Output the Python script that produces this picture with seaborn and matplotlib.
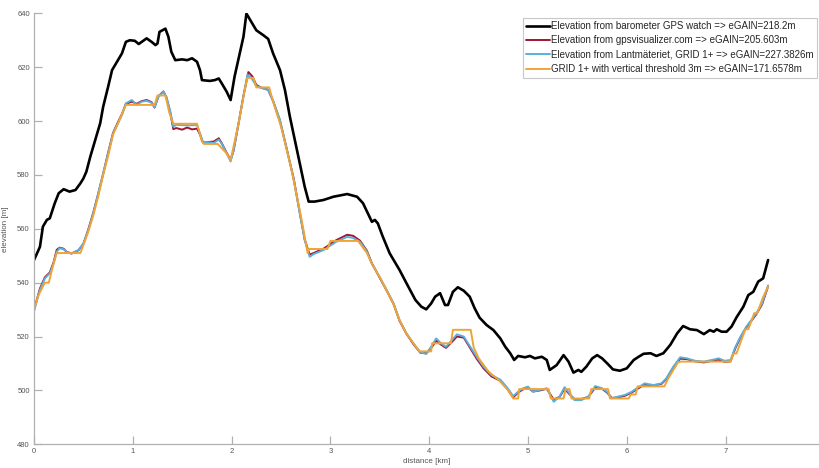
import matplotlib
matplotlib.use("Agg")
import matplotlib.pyplot as plt
import seaborn as sns
import pandas as pd

# Barometric watch track
black_km = [0.00, 0.06, 0.09, 0.13, 0.16, 0.21, 0.25, 0.30, 0.36, 0.42, 0.47, 0.50, 0.53, 0.57, 0.62,
            0.67, 0.70, 0.75, 0.79, 0.84, 0.89, 0.93, 0.97, 1.02, 1.06, 1.09, 1.14, 1.19, 1.23, 1.25,
            1.27, 1.33, 1.36, 1.39, 1.43, 1.50, 1.55, 1.60, 1.65, 1.68, 1.70, 1.78, 1.83, 1.87, 1.90,
            1.95, 1.99, 2.03, 2.09, 2.12, 2.15, 2.19, 2.25, 2.32, 2.37, 2.42, 2.49, 2.54, 2.59, 2.64,
            2.69, 2.74, 2.78, 2.84, 2.93, 3.03, 3.17, 3.27, 3.33, 3.38, 3.42, 3.45, 3.48, 3.53, 3.60,
            3.64, 3.70, 3.77, 3.86, 3.92, 3.97, 4.02, 4.06, 4.11, 4.16, 4.19, 4.24, 4.29, 4.35, 4.41,
            4.46, 4.51, 4.58, 4.65, 4.72, 4.77, 4.82, 4.86, 4.90, 4.97, 5.02, 5.07, 5.14, 5.19, 5.22,
            5.29, 5.36, 5.41, 5.46, 5.51, 5.54, 5.59, 5.65, 5.70, 5.75, 5.80, 5.86, 5.93, 6.00, 6.07,
            6.12, 6.17, 6.24, 6.30, 6.37, 6.44, 6.51, 6.57, 6.64, 6.71, 6.78, 6.84, 6.88, 6.91, 6.96,
            7.01, 7.06, 7.11, 7.18, 7.23, 7.28, 7.33, 7.38, 7.43]
black_m = [548.4, 553.3, 560.8, 563.3, 563.9, 569.5, 573.2, 574.7, 573.8, 574.4, 576.9, 578.7, 581.2, 586.8, 593.0,
           599.2, 605.3, 612.7, 618.9, 622.0, 625.1, 629.4, 630.0, 629.8, 628.6, 629.4, 630.7, 629.4, 628.2, 628.8,
           633.1, 634.3, 631.3, 625.7, 622.6, 622.9, 622.6, 623.3, 622.0, 618.9, 615.2, 614.9, 615.2, 615.8, 614.0,
           610.9, 607.8, 616.5, 626.4, 631.3, 639.9, 637.4, 633.7, 631.9, 630.5, 625.1, 618.9, 611.5, 601.6, 593.0,
           584.3, 575.6, 570.1, 570.1, 570.7, 571.9, 572.9, 571.9, 569.5, 565.7, 562.6, 563.3, 562.0, 557.1, 550.9,
           548.4, 544.7, 539.8, 533.6, 531.1, 530.1, 532.3, 534.8, 536.1, 531.7, 531.7, 536.6, 538.3, 537.0, 534.8,
           530.5, 527.0, 524.3, 522.4, 519.3, 516.2, 513.8, 511.3, 512.8, 512.3, 512.8, 511.9, 512.5, 511.3, 507.6,
           509.4, 513.1, 510.7, 506.6, 507.6, 506.9, 508.8, 511.9, 513.1, 511.9, 510.1, 507.8, 507.3, 508.2, 511.3,
           512.5, 513.6, 513.8, 512.8, 513.8, 516.9, 521.2, 523.9, 522.7, 522.4, 520.9, 522.4, 521.8, 522.7, 521.8,
           521.8, 523.7, 527.1, 531.1, 535.4, 536.6, 540.4, 541.6, 548.4]

# Lantmäteriet GRID 1+ profile
grid_km = [0.00, 0.06, 0.11, 0.16, 0.20, 0.23, 0.26, 0.30, 0.33, 0.38, 0.45, 0.50, 0.55, 0.60, 0.65,
           0.70, 0.75, 0.80, 0.85, 0.89, 0.93, 0.99, 1.04, 1.09, 1.14, 1.19, 1.22, 1.26, 1.31, 1.34,
           1.38, 1.41, 1.44, 1.55, 1.65, 1.68, 1.71, 1.82, 1.87, 1.90, 1.95, 1.99, 2.02, 2.07, 2.12,
           2.16, 2.20, 2.25, 2.30, 2.37, 2.42, 2.49, 2.56, 2.63, 2.69, 2.74, 2.79, 2.83, 2.93, 3.06,
           3.17, 3.23, 3.30, 3.37, 3.42, 3.50, 3.57, 3.64, 3.70, 3.77, 3.84, 3.91, 3.97, 4.02, 4.07,
           4.12, 4.17, 4.23, 4.28, 4.35, 4.41, 4.48, 4.55, 4.63, 4.72, 4.79, 4.85, 4.90, 4.95, 5.00,
           5.05, 5.12, 5.19, 5.26, 5.32, 5.37, 5.42, 5.47, 5.54, 5.61, 5.68, 5.75, 5.80, 5.85, 5.91,
           5.98, 6.05, 6.10, 6.18, 6.27, 6.35, 6.40, 6.47, 6.54, 6.61, 6.69, 6.78, 6.86, 6.93, 6.99,
           7.05, 7.10, 7.15, 7.21, 7.26, 7.31, 7.37, 7.42, 7.43]
grid_m = [529.5, 537.3, 541.6, 543.5, 547.2, 551.5, 552.8, 552.4, 551.5, 550.9, 552.1, 554.6, 559.5, 565.7, 573.2,
          580.6, 588.0, 595.4, 599.2, 602.2, 606.6, 607.8, 606.0, 607.2, 607.5, 606.8, 605.1, 609.0, 610.9, 609.0,
          603.5, 597.9, 598.6, 598.4, 598.5, 595.4, 592.3, 591.9, 593.1, 591.6, 588.0, 585.0, 589.2, 599.2, 609.0,
          617.2, 616.0, 613.0, 612.3, 611.5, 607.6, 600.4, 589.2, 578.1, 565.7, 555.8, 549.6, 550.6, 552.1, 555.2,
          557.0, 556.6, 555.2, 551.5, 547.0, 542.0, 537.3, 532.3, 526.1, 521.2, 517.5, 514.2, 513.5, 516.2, 519.3,
          517.5, 516.2, 518.7, 520.8, 520.0, 516.5, 512.5, 508.8, 505.7, 504.0, 501.0, 497.9, 499.5, 500.8, 501.4,
          499.5, 500.2, 500.8, 495.8, 497.7, 501.2, 498.9, 496.4, 496.4, 497.7, 501.6, 500.8, 499.5, 497.1, 497.7,
          498.3, 499.5, 500.8, 502.6, 502.0, 502.6, 504.5, 508.8, 512.3, 511.9, 511.0, 510.7, 511.3, 511.9, 511.0,
          511.3, 516.2, 519.9, 523.7, 526.1, 528.6, 532.3, 537.9, 539.0]

# gpsvisualizer.com profile
gpsv_km = [0.00, 0.06, 0.11, 0.16, 0.20, 0.23, 0.26, 0.30, 0.33, 0.38, 0.45, 0.50, 0.55, 0.60, 0.65,
           0.70, 0.75, 0.80, 0.85, 0.89, 0.93, 0.99, 1.04, 1.09, 1.14, 1.19, 1.22, 1.26, 1.31, 1.34,
           1.38, 1.41, 1.44, 1.50, 1.55, 1.60, 1.65, 1.68, 1.71, 1.82, 1.87, 1.90, 1.95, 1.99, 2.02,
           2.07, 2.12, 2.17, 2.21, 2.25, 2.30, 2.37, 2.42, 2.49, 2.56, 2.63, 2.69, 2.74, 2.79, 2.83,
           2.93, 3.06, 3.17, 3.23, 3.30, 3.37, 3.42, 3.50, 3.57, 3.64, 3.70, 3.77, 3.84, 3.91, 3.97,
           4.02, 4.07, 4.12, 4.17, 4.23, 4.28, 4.35, 4.41, 4.48, 4.55, 4.63, 4.72, 4.79, 4.85, 4.90,
           4.95, 5.00, 5.05, 5.12, 5.19, 5.26, 5.32, 5.37, 5.42, 5.47, 5.54, 5.61, 5.68, 5.75, 5.80,
           5.85, 5.91, 5.98, 6.05, 6.10, 6.18, 6.27, 6.35, 6.40, 6.47, 6.54, 6.61, 6.69, 6.78, 6.86,
           6.93, 6.99, 7.05, 7.10, 7.15, 7.21, 7.26, 7.31, 7.37, 7.42, 7.43]
gpsv_m = [530.0, 537.8, 542.0, 543.8, 547.8, 552.2, 553.0, 552.6, 551.4, 550.8, 552.0, 554.4, 559.8, 566.0, 573.0,
          580.4, 588.2, 595.6, 599.6, 602.6, 606.4, 607.2, 606.4, 607.4, 607.8, 607.0, 605.0, 609.2, 611.0, 608.8,
          603.0, 597.0, 597.4, 596.8, 597.6, 596.9, 597.2, 595.0, 592.0, 592.4, 593.6, 591.8, 588.2, 585.6, 589.0,
          599.0, 609.4, 618.2, 616.6, 613.4, 612.4, 611.6, 607.4, 600.0, 589.4, 578.4, 566.0, 556.0, 550.4, 551.0,
          552.6, 555.8, 557.8, 557.4, 555.6, 551.8, 547.2, 541.8, 537.0, 532.0, 525.8, 521.0, 517.2, 514.0, 513.8,
          515.8, 518.4, 517.0, 515.8, 518.0, 520.0, 519.6, 516.0, 511.8, 508.2, 505.2, 503.6, 500.6, 497.4, 499.2,
          500.4, 501.0, 499.6, 500.0, 500.6, 496.6, 497.6, 500.6, 498.6, 496.8, 496.8, 497.6, 501.0, 500.6, 499.2,
          497.2, 497.4, 498.0, 499.2, 500.4, 502.2, 501.8, 502.4, 504.2, 508.4, 511.8, 511.6, 510.8, 510.4, 511.0,
          511.4, 510.6, 510.8, 515.8, 519.6, 523.4, 525.8, 528.2, 532.0, 537.6, 538.6]

# GRID 1+ with a 3 m vertical threshold (stepped profile)
thr_km = [0.00, 0.04, 0.11, 0.15, 0.20, 0.23, 0.47, 0.50, 0.55, 0.60, 0.65, 0.70, 0.75, 0.80, 0.86,
          0.93, 1.22, 1.25, 1.33, 1.37, 1.41, 1.65, 1.70, 1.72, 1.86, 1.95, 1.99, 2.07, 2.13, 2.16,
          2.22, 2.25, 2.38, 2.43, 2.50, 2.60, 2.70, 2.77, 2.78, 2.97, 3.00, 3.28, 3.30, 3.37, 3.42,
          3.50, 3.57, 3.64, 3.70, 3.77, 3.84, 3.90, 4.02, 4.03, 4.22, 4.24, 4.42, 4.45, 4.50, 4.60,
          4.70, 4.80, 4.85, 4.90, 4.91, 5.21, 5.23, 5.36, 5.38, 5.42, 5.44, 5.62, 5.64, 5.81, 5.83,
          6.02, 6.04, 6.09, 6.11, 6.38, 6.42, 6.47, 6.52, 6.55, 7.05, 7.08, 7.11, 7.14, 7.17, 7.20,
          7.23, 7.26, 7.29, 7.32, 7.35, 7.38, 7.43]
thr_m = [529.5, 535.0, 540.0, 540.0, 547.5, 551.0, 551.0, 554.0, 559.0, 565.0, 572.0, 580.0, 587.0, 595.0, 600.0,
         606.0, 606.0, 609.5, 609.5, 603.0, 599.0, 599.0, 592.5, 591.5, 591.5, 588.0, 585.5, 599.0, 611.0, 616.0,
         616.0, 612.5, 612.5, 606.0, 598.0, 583.0, 565.0, 551.0, 552.5, 552.5, 555.5, 555.5, 554.5, 551.0, 547.0,
         542.0, 537.0, 532.0, 526.0, 521.0, 517.5, 514.5, 514.5, 517.5, 517.5, 522.5, 522.5, 516.0, 512.0, 507.0,
         504.0, 500.0, 497.0, 497.0, 500.5, 500.5, 497.0, 497.0, 500.5, 500.5, 497.0, 497.0, 500.5, 500.5, 497.0,
         497.0, 498.5, 498.5, 501.5, 501.5, 504.5, 507.5, 510.5, 510.7, 510.7, 513.7, 513.7, 516.7, 519.7, 522.7,
         522.7, 525.7, 528.7, 528.7, 531.7, 534.7, 538.5]

labels = ["Elevation from barometer GPS watch => eGAIN=218.2m",
          "Elevation from gpsvisualizer.com => eGAIN=205.603m",
          "Elevation from Lantmäteriet, GRID 1+ => eGAIN=227.3826m",
          "GRID 1+ with vertical threshold 3m => eGAIN=171.6578m"]
colors = ["#000000", "#A2142F", "#5AAFDD", "#F0A435"]
x_ticks = [0, 1, 2, 3, 4, 5, 6, 7]
y_ticks = [480, 500, 520, 540, 560, 580, 600, 620, 640]

sns.set_style("white")
plt.rcParams["font.family"] = ["Liberation Sans", "DejaVu Sans"]

fig = plt.figure(figsize=(8.19, 4.68), dpi=100)
ax = fig.add_axes([34 / 819, 23.7 / 468, 785 / 819, 431 / 468])

series = [(black_km, black_m, 1.9), (gpsv_km, gpsv_m, 1.4),
          (grid_km, grid_m, 1.4), (thr_km, thr_m, 1.4)]
for (xs, ys, lw), lab, col in zip(series, labels, colors):
    df = pd.DataFrame({"distance": xs, "elevation": ys})
    sns.lineplot(data=df, x="distance", y="elevation", sort=False, estimator=None,
                 color=col, linewidth=lw, label=lab, ax=ax)

ax.set_xlim(0, 785 / 98.8)
ax.set_ylim(480, 640)
ax.set_xticks(x_ticks)
ax.set_yticks(y_ticks)

spine_col = "#b0b0b0"
for side in ["top", "right"]:
    ax.spines[side].set_visible(False)
for side in ["left", "bottom"]:
    ax.spines[side].set_color(spine_col)
    ax.spines[side].set_linewidth(0.9)
ax.tick_params(bottom=True, left=True, direction="in", length=5.5, width=0.9, color=spine_col,
               labelsize=5.5, labelcolor="#555555", pad=3)
ax.set_xlabel("distance [km]", fontsize=5.8, color="#555555", labelpad=2)
ax.set_ylabel("elevation [m]", fontsize=5.8, color="#555555", labelpad=6)

leg = ax.legend(loc="upper right", bbox_to_anchor=(0.9975, 0.99), fontsize=7.0,
                frameon=True, fancybox=False, edgecolor="#c8c8c8", framealpha=1,
                handlelength=2.4, handletextpad=0.15, borderpad=0.35, labelspacing=0.45,
                borderaxespad=0.0)
leg.get_frame().set_linewidth(0.8)

fig.savefig("out.png", dpi=100)
